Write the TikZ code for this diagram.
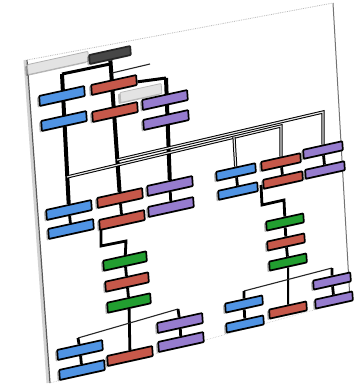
\documentclass[tikz,border=0pt]{standalone}
\usetikzlibrary{shadows}
\pgfdeclarelayer{back}
\pgfdeclarelayer{bg}
\pgfsetlayers{back,bg,main}
\definecolor{cblue}{RGB}{80,148,228}
\definecolor{cred}{RGB}{198,88,74}
\definecolor{cpurple}{RGB}{150,124,206}
\definecolor{cgreen}{RGB}{34,158,48}
\begin{document}
\begin{tikzpicture}[x=1pt,y=-1pt,
  bx/.style={draw=black, line width=1.7pt, minimum width=46pt, minimum height=10pt,
    inner sep=0pt, rounded corners=0.8pt, cm={0.977,0.215,-0.07,0.998,(0,0)},
    drop shadow={shadow xshift=-2.2pt, shadow yshift=-1.5pt, opacity=0.28, fill=black}},
  bxs/.style={bx, minimum width=40pt, minimum height=9pt},
  bxt/.style={bx, minimum width=38pt, minimum height=9pt},
  trunk/.style={line width=4pt, black},
  conn/.style={line width=2.8pt, black},
  thinl/.style={line width=1.1pt, black!85},
  rail/.style={line width=1pt, draw=black, double=white!80!gray, double distance=1.2pt}]
\begin{pgfonlayer}{back}
\fill[white] (0,0) rectangle (360,391);
\end{pgfonlayer}
\useasboundingbox (0,0) rectangle (360,391);
% sheet
\coordinate (TL) at (27,60); \coordinate (TR) at (333,3);
\coordinate (BR) at (350,300); \coordinate (BL) at (50,383);
\begin{pgfonlayer}{back}
\draw[gray!35, line width=3pt] ([xshift=-2pt]TL) -- ([xshift=-2pt]BL);
\draw[black!65, line width=1.2pt] (TL) -- (BL);
\draw[black!55, line width=1pt] (TR) -- (BR);
\draw[gray!55, line width=0.8pt, densely dotted] (TL) -- (TR);
\draw[gray!45, line width=0.6pt, densely dotted] (BL) -- (BR);
\end{pgfonlayer}
% header
\node[bx, fill=gray!22, draw=gray!60, line width=0.8pt, minimum width=62pt, minimum height=10pt] (hdrL) at (58,63) {};
\node[bx, fill=black!72, draw=black!85, minimum width=42pt, minimum height=9pt] (hdrR) at (110,55) {};
% top group
\node[bx, fill=gray!22, draw=gray!55, line width=0.8pt, minimum width=42pt] (tg) at (141,93) {};
\node[bx, fill=cblue] (tb1) at (62,96) {};
\node[bx, fill=cred] (tr1) at (114,85) {};
\node[bx, fill=cpurple] (tp1) at (165,100) {};
\node[bx, fill=cblue] (tb2) at (64,121) {};
\node[bx, fill=cred] (tr2) at (115,112) {};
\node[bx, fill=cpurple] (tp2) at (166,120) {};
% lower left group
\node[bx, fill=cblue] (lb1) at (69,210) {};
\node[bx, fill=cblue] (lb2) at (71,229) {};
\node[bx, fill=cred] (lr1) at (120,198) {};
\node[bx, fill=cred] (lr2) at (122,220) {};
\node[bx, fill=cpurple] (lp1) at (170,186) {};
\node[bx, fill=cpurple] (lp2) at (171,207) {};
% left chain
\node[bx, fill=cgreen, minimum width=44pt] (clg1) at (125,261) {};
\node[bx, fill=cred, minimum width=44pt] (clr) at (127,282) {};
\node[bx, fill=cgreen, minimum width=44pt] (clg2) at (129,303) {};
\node[bx, fill=cred] (clrb) at (130,356) {};
% bottom left
\node[bx, fill=cblue] (blb1) at (80,350) {};
\node[bx, fill=cblue] (blb2) at (82,370) {};
\node[bx, fill=cpurple] (blp1) at (180,323) {};
\node[bx, fill=cpurple] (blp2) at (181,342) {};
% right group
\node[bxs, fill=cblue] (rb1) at (236,172) {};
\node[bxs, fill=cblue] (rb2) at (238,191) {};
\node[bxs, fill=cred] (rr1) at (281,162) {};
\node[bxs, fill=cred] (rr2) at (283,180) {};
\node[bxs, fill=cpurple] (rp1) at (323,150) {};
\node[bxs, fill=cpurple] (rp2) at (325,170) {};
% right chain
\node[bxt, fill=cgreen] (crg1) at (285,222) {};
\node[bxt, fill=cred] (crr) at (286,242) {};
\node[bxt, fill=cgreen] (crg2) at (288,262) {};
\node[bxt, fill=cred] (crrb) at (288,310) {};
% bottom right
\node[bxt, fill=cblue] (brb1) at (244,304) {};
\node[bxt, fill=cblue] (brb2) at (245,324) {};
\node[bxt, fill=cpurple] (brp1) at (332,281) {};
\node[bxt, fill=cpurple] (brp2) at (334,300) {};
% helper coordinates
\coordinate (tL0) at (62,74);
\coordinate (tM0) at (110,64);
\coordinate (tR0) at (166,78);
\coordinate (tM1) at (112,73);
\coordinate (tX) at (150,64);
\coordinate (rU0) at (117,160);
\coordinate (rU1) at (323,112);
\coordinate (rL0) at (67,177);
\coordinate (rL1) at (281,126);
\coordinate (rD0) at (234,137);
\coordinate (eL1) at (101,222);
\coordinate (eL2) at (101,246);
\coordinate (eL3) at (126,241);
\coordinate (eR1) at (261,185);
\coordinate (eR2) at (262,205);
\coordinate (eR3) at (284,200);
\coordinate (blA) at (78,338);
\coordinate (blB) at (178,309);
\coordinate (brA) at (244,291);
\coordinate (brB) at (332,268);
\begin{pgfonlayer}{bg}
\draw[trunk] (tL0) -- (lb1);
\draw[trunk] (hdrR) -- (lr1);
\draw[trunk] (tR0) -- (lp1);
\draw[line width=3pt] (tL0) -- (tM0);
\draw[line width=3pt] (tr1) -- (tR0);
\draw[thinl] (tM1) -- (tX);
\draw[rail] (rU0) -- (rU1) -- (rp1);
\draw[rail] (rL0) -- (rL1) -- (rr1);
\draw[rail] (rD0) -- (rb1);
\draw[conn] (lb1) -- (lb2);
\draw[conn] (lr1) -- (lr2);
\draw[conn] (lp1) -- (lp2);
\draw[conn] (eL1) -- (eL2) -- (eL3) -- (clg1);
\draw[conn] (clg1) -- (clr) -- (clg2) -- (clrb);
\draw[thinl] (blA) -- (blB);
\draw[conn] (blA) -- (blb1);
\draw[conn] (blB) -- (blp1);
\draw[conn] (blb1) -- (blb2);
\draw[conn] (blp1) -- (blp2);
\draw[conn] (rb1) -- (rb2);
\draw[conn] (rr1) -- (rr2);
\draw[conn] (rp1) -- (rp2);
\draw[conn] (eR1) -- (eR2) -- (eR3) -- (crg1);
\draw[conn] (crg1) -- (crr) -- (crg2);
\draw[line width=2pt] (crg2) -- (crrb);
\draw[thinl] (brA) -- (brB);
\draw[conn] (brA) -- (brb1);
\draw[conn] (brB) -- (brp1);
\draw[conn] (brb1) -- (brb2);
\draw[conn] (brp1) -- (brp2);
\end{pgfonlayer}
\end{tikzpicture}
\end{document}
